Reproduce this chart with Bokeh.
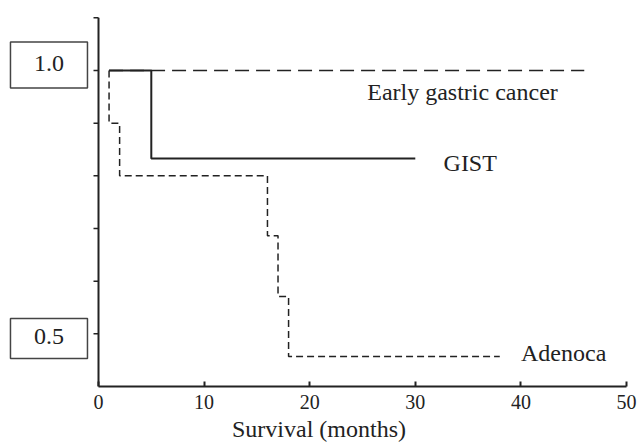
import math
from bokeh.plotting import figure
from bokeh.models import Range1d, FixedTicker, ColumnDataSource
from bokeh.core.properties import value
from bokeh.embed import file_html
from bokeh.resources import INLINE

# Kaplan-Meier style step data (months, survival)
early_x = [1, 46]
early_y = [1.0, 1.0]

gist_x = [1, 5, 5, 30]
gist_y = [1.0, 1.0, 0.833, 0.833]

adeno_x = [1, 1, 2, 2, 16, 16, 17, 17, 18, 18, 38]
adeno_y = [1.0, 0.9, 0.9, 0.8, 0.8, 0.686, 0.686, 0.571, 0.571, 0.457, 0.457]

x_ticks = [0, 10, 20, 30, 40, 50]
y_ticks = [0.5, 0.6, 0.7, 0.8, 0.9, 1.0, 1.1]
y_box_labels = ["1.0", "0.5"]

series_labels = ["Early gastric cancer", "GIST", "Adenoca"]

FONT = "Liberation Serif"
INK = "#222222"

# scale: 0 month at px 98, 50 months at px 626; y 0.4 at px 386, 526.7 px per unit
PX_X = 528 / 50.0
PX_Y = 526.7
x_start = -98 / PX_X
x_end = (637 - 98) / PX_X
y_bottom = 0.4
y_top = 0.4 + 386 / PX_Y
y_axis_top = 1.1
TXT_SHIFT = 9 / PX_Y

p = figure(width=637, height=447, output_backend="svg", toolbar_location=None,
           x_range=Range1d(x_start, x_end), y_range=Range1d(y_bottom, y_top),
           y_axis_location=None,
           min_border_left=0, min_border_right=0, min_border_top=0, min_border_bottom=61)
p.outline_line_color = None
p.grid.visible = False
p.background_fill_color = "white"
p.border_fill_color = "white"

# curves
p.line(early_x, early_y, line_color=INK, line_width=1.5, line_dash="14 7")
p.line(gist_x, gist_y, line_color=INK, line_width=2)
p.line(adeno_x, adeno_y, line_color=INK, line_width=1.5, line_dash="7 4")

# x axis (real axis, limited to 0..50)
xa = p.xaxis[0]
xa.ticker = FixedTicker(ticks=x_ticks)
xa.bounds = (x_ticks[0], x_ticks[-1])
xa.major_tick_in = 5
xa.major_tick_out = 0
xa.minor_tick_line_color = None
xa.axis_line_width = 2
xa.axis_line_color = INK
xa.major_tick_line_color = INK
xa.major_tick_line_width = 2
xa.major_label_text_font = FONT
xa.major_label_text_font_size = "20px"
xa.major_label_text_color = INK
xa.major_label_standoff = 8
xa.axis_label = "Survival (months)"
xa.axis_label_text_font = FONT
xa.axis_label_text_font_size = "24px"
xa.axis_label_text_font_style = "normal"
xa.axis_label_text_color = INK
xa.axis_label_standoff = 4

# y axis line and outward ticks at x = 0
p.segment(x0=[0], y0=[y_bottom], x1=[0], y1=[y_axis_top], line_color=INK, line_width=2)
p.ray(x=[0] * len(y_ticks), y=y_ticks, length=5, length_units="screen", angle=math.pi,
      line_color=INK, line_width=1.5)

# boxed y labels to the left of the axis
box_x = -4.69
box_src = ColumnDataSource(dict(
    x=[box_x, box_x],
    y=[1.0104, 0.4911],
    h=[46, 40],
    ty=[0.9967 + TXT_SHIFT, 0.4778 + TXT_SHIFT],
    t=y_box_labels,
))
p.rect(x="x", y="y", width=77, height="h", width_units="screen", height_units="screen",
       fill_color="white", line_color="#444444", line_width=1.5, source=box_src)
p.text(x="x", y="ty", text="t", text_align="center", text_baseline="alphabetic",
       text_font=value(FONT), text_font_size="24px", text_color=INK, source=box_src)

# series labels
lab_src = ColumnDataSource(dict(
    x=[34.47, 35.2, 44.05],
    y=[0.943 + TXT_SHIFT, 0.807 + TXT_SHIFT, 0.446 + TXT_SHIFT],
    t=series_labels,
))
p.text(x="x", y="y", text="t", text_align="center", text_baseline="alphabetic",
       text_font=value(FONT), text_font_size="24px", text_color=INK, source=lab_src)

open("out.html", "w").write(file_html(p, INLINE))
